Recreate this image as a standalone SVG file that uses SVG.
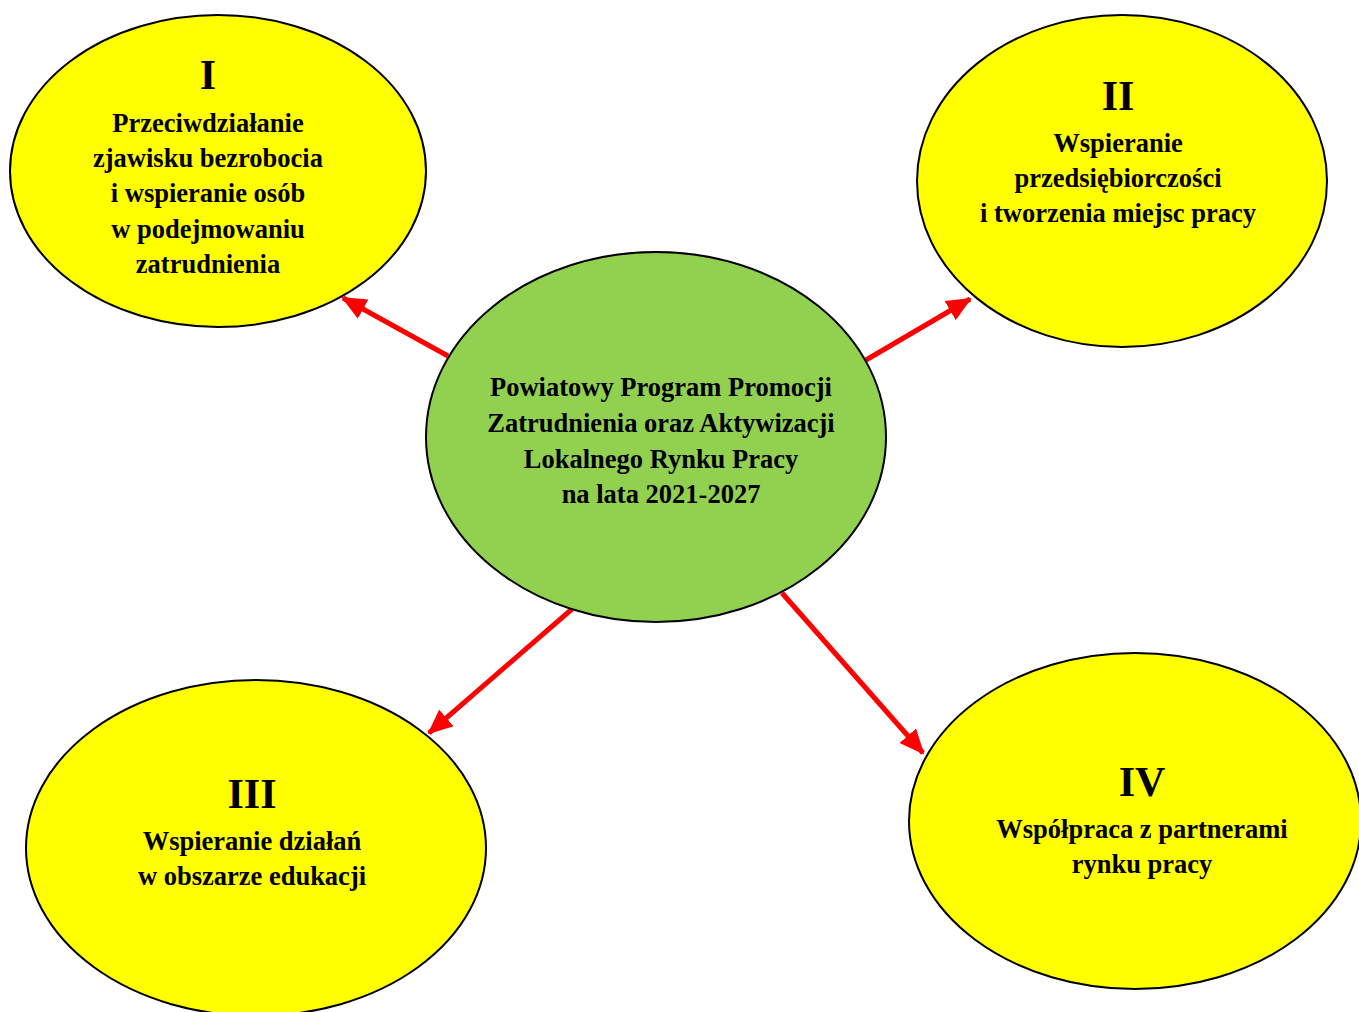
<svg xmlns="http://www.w3.org/2000/svg" width="1359" height="1012" viewBox="0 0 1359 1012">
<style>
.yel{fill:#ffff00;stroke:#000;stroke-width:2}
.grn{fill:#92d050;stroke:#000;stroke-width:2}
.t{font-family:"Liberation Serif",serif;font-weight:bold;font-size:26.5px;text-anchor:middle;fill:#000}
.n{font-family:"Liberation Serif",serif;font-weight:bold;font-size:42px;text-anchor:middle;fill:#000}
.c{stroke:#ff0000;stroke-width:5;fill:none;marker-end:url(#ah)}
</style>
<defs>
<marker id="ah" markerWidth="5" markerHeight="4.4" refX="4.6" refY="2.2" orient="auto" markerUnits="strokeWidth">
<path d="M0,0 L5,2.2 L0,4.4 Z" fill="#ff0000"/>
</marker>
</defs>
<rect width="1359" height="1012" fill="#fff"/>
<g id="connectors">
<line class="c" x1="448" y1="356" x2="343" y2="298"/>
<line class="c" x1="866" y1="360" x2="970" y2="299"/>
<line class="c" x1="572" y1="609" x2="429" y2="733"/>
<line class="c" x1="782" y1="593" x2="923" y2="753"/>
</g>
<g id="node-I">
<ellipse class="yel" cx="218" cy="171" rx="208" ry="156"/>
<text class="n" x="208" y="89">I</text>
<text class="t" x="208" y="132">Przeciwdziałanie</text>
<text class="t" x="208" y="167">zjawisku bezrobocia</text>
<text class="t" x="208" y="202">i wspieranie osób</text>
<text class="t" x="208" y="238">w podejmowaniu</text>
<text class="t" x="208" y="273">zatrudnienia</text>
</g>
<g id="node-II">
<ellipse class="yel" cx="1122" cy="181" rx="205" ry="166"/>
<text class="n" x="1118" y="110">II</text>
<text class="t" x="1118" y="152">Wspieranie</text>
<text class="t" x="1118" y="187">przedsiębiorczości</text>
<text class="t" x="1118" y="222">i tworzenia miejsc pracy</text>
</g>
<g id="node-center">
<ellipse class="grn" cx="656" cy="437" rx="230" ry="185"/>
<text class="t" x="661" y="396">Powiatowy Program Promocji</text>
<text class="t" x="661" y="432">Zatrudnienia oraz Aktywizacji</text>
<text class="t" x="661" y="468">Lokalnego Rynku Pracy</text>
<text class="t" x="661" y="503">na lata 2021-2027</text>
</g>
<g id="node-III">
<ellipse class="yel" cx="256" cy="848" rx="230" ry="168"/>
<text class="n" x="252" y="808">III</text>
<text class="t" x="252" y="850">Wspieranie działań</text>
<text class="t" x="252" y="885">w obszarze edukacji</text>
</g>
<g id="node-IV">
<ellipse class="yel" cx="1135" cy="821" rx="226" ry="168"/>
<text class="n" x="1142" y="796">IV</text>
<text class="t" x="1142" y="838">Współpraca z partnerami</text>
<text class="t" x="1142" y="873">rynku pracy</text>
</g>
</svg>
